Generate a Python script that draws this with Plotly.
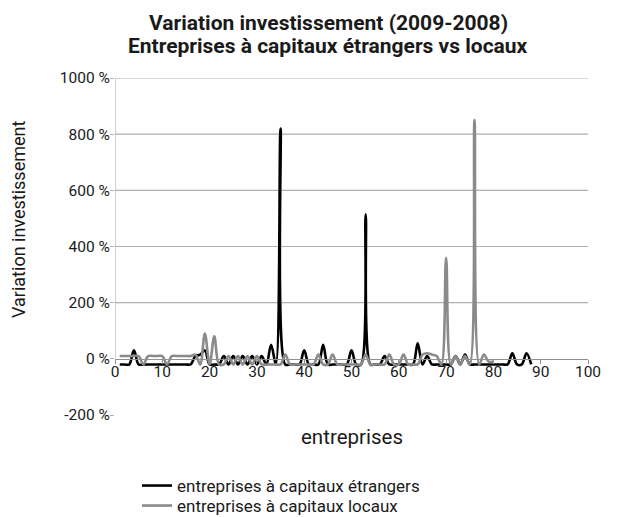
import plotly.graph_objects as go

# ---- data ----
etrangers_x = list(range(1, 89))
etrangers_y = [
    -20, -20, -20, 30, -20, -20, -20, -20, -20, -20,   # 1-10
    -20, -20, -20, -20, -20, -20, 10, 15, 30, -20,     # 11-20
    -20, -20, 10, -20, 10, -20, 10, -20, 10, -20,      # 21-30
    10, -20, 50, -20, 820, -20, -20, -20, -20, 30,     # 31-40
    -20, -20, -20, 50, -20, -20, -20, -20, -20, 30,    # 41-50
    -20, -20, 515, -20, -20, -20, 10, -20, -20, -20,   # 51-60
    -20, -20, -20, 55, -20, 10, -20, -20, -20, -20,    # 61-70
    -20, 10, -20, 15, -20, -20, -20, -20, -20, -20,    # 71-80
    -20, -20, -20, 20, -20, -20, 20, -20,              # 81-88
]
locaux_x = list(range(1, 81))
locaux_y = [
    10, 10, 10, 10, 10, -20, 10, 10, 10, 10,           # 1-10
    -20, 10, 10, 10, 10, 10, 15, -20, 90, -20,         # 11-20
    80, -20, -20, 10, -20, 10, -20, 10, -20, 10,       # 21-30
    -20, -20, -20, -20, -20, 15, -20, -20, -20, -20,   # 31-40
    -20, -20, 15, -20, -20, 15, -20, -20, -20, -20,    # 41-50
    -20, -20, 15, -20, -20, -20, -20, 15, -20, -20,    # 51-60
    15, -20, -20, -20, 15, 20, 15, 10, -20, 360,       # 61-70
    -20, 10, -20, 10, -20, 850, -20, 15, -10, -10,     # 71-80
]
y_tickvals = [-200, 0, 200, 400, 600, 800, 1000]
y_ticktext = ["-200 %", "0 %", "200 %", "400 %", "600 %", "800 %", "1000 %"]
x_tickvals = [0, 10, 20, 30, 40, 50, 60, 70, 80, 90, 100]
x_ticktext = [str(v) for v in x_tickvals]

FONT = "Roboto"
L, R, T, B = 107, 59, 70, 110
W, H = 639, 517
PW, PH = W - L - R, H - T - B


def px_x(px):
    return (px - L) / PW


def px_y(py):
    return (H - B - py) / PH


fig = go.Figure()
fig.add_trace(go.Scatter(
    x=etrangers_x, y=etrangers_y, mode="lines",
    name="entreprises à capitaux étrangers", legend="legend",
    line=dict(color="#000000", width=2.6, shape="spline", smoothing=1.0),
))
fig.add_trace(go.Scatter(
    x=locaux_x, y=locaux_y, mode="lines",
    name="entreprises à capitaux locaux", legend="legend2",
    line=dict(color="#8a8a8a", width=2.6, shape="spline", smoothing=1.0),
))

for v in y_tickvals:
    if v > 0:
        fig.add_shape(type="line", xref="x", yref="y", x0=0, x1=100, y0=v, y1=v,
                      line=dict(color="#b0b0b0", width=1.2), layer="below")
fig.add_shape(type="line", xref="x", yref="y", x0=0, x1=0, y0=0, y1=1000,
              line=dict(color="#b0b0b0", width=1.2), layer="below")

legend_common = dict(xanchor="left", yanchor="middle", orientation="v",
                     font=dict(size=17, color="#1a1a1a"), itemwidth=30,
                     bgcolor="rgba(0,0,0,0)")

fig.update_layout(
    width=W, height=H,
    margin=dict(l=L, r=R, t=T, b=B, autoexpand=False),
    paper_bgcolor="white", plot_bgcolor="white",
    font=dict(family=FONT, size=15, color="#1a1a1a"),
    showlegend=True,
    legend=dict(x=px_x(129), y=px_y(478), **legend_common),
    legend2=dict(x=px_x(129), y=px_y(498), **legend_common),
    xaxis=dict(range=[0, 100], tickvals=x_tickvals, ticktext=x_ticktext,
               anchor="free", position=1/6, showline=True, linecolor="#909090",
               linewidth=1.2, ticks="outside", ticklen=4, tickcolor="#909090",
               ticklabelstandoff=-6,
               showgrid=False, zeroline=False, tickfont=dict(size=15.5)),
    yaxis=dict(range=[-200, 1000], tickvals=y_tickvals, ticktext=y_ticktext,
               showgrid=False, zeroline=False, showline=False,
               ticks="outside", ticklen=4, tickcolor="#b0b0b0",
               ticklabelstandoff=-3,
               tickfont=dict(size=15.5)),
    annotations=[
        dict(text="<b>Variation investissement (2009-2008)</b>",
             xref="paper", yref="paper", x=px_x(320), y=px_y(15),
             xanchor="center", yanchor="middle",
             showarrow=False, font=dict(size=21, color="#1a1a1a", family=FONT)),
        dict(text="<b>Entreprises à capitaux étrangers vs locaux</b>",
             xref="paper", yref="paper", x=px_x(320), y=px_y(38),
             xanchor="center", yanchor="middle",
             showarrow=False, font=dict(size=21, color="#1a1a1a", family=FONT)),
        dict(text="Variation investissement", xref="paper", yref="paper",
             x=px_x(10), y=px_y(212), textangle=-90, xanchor="center", yanchor="middle",
             showarrow=False, font=dict(size=18, color="#1a1a1a")),
        dict(text="entreprises", xref="paper", yref="paper",
             x=0.5, y=px_y(429), xanchor="center", yanchor="middle",
             showarrow=False, font=dict(size=20.5, color="#1a1a1a")),
    ],
)

fig.write_html("out.html")
